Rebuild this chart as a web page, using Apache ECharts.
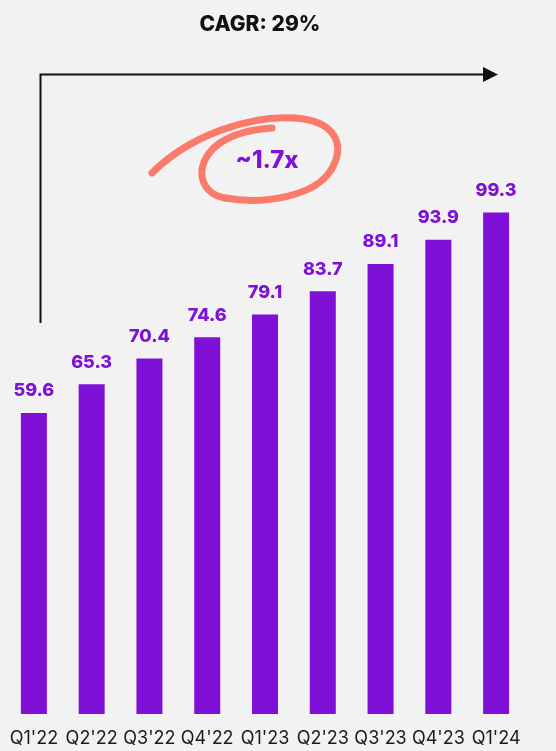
<!DOCTYPE html>
<html>
<head>
<meta charset="utf-8">
<script src="https://cdn.jsdelivr.net/npm/echarts@6/dist/echarts.min.js"></script>
<style>
  html, body {margin: 0; padding: 0; background: #f2f2f2;}
  #chart {width: 556px; height: 751px;}
</style>
</head>
<body>
<div id="chart"></div>
<script>
const quarters = ["Q1'22", "Q2'22", "Q3'22", "Q4'22", "Q1'23", "Q2'23", "Q3'23", "Q4'23", "Q1'24"];
const values = [59.6, 65.3, 70.4, 74.6, 79.1, 83.7, 89.1, 93.9, 99.3];
const title_text = "CAGR: 29%";
const multiple_text = "~1.7x";

const purple = "#7f10d8";
const coral = "#fb7b6b";
const font = "Inter, 'Noto Sans', sans-serif";

// hand-drawn loop around the multiple, as cubic segments [x1,y1,cp1x,cp1y,cp2x,cp2y,x2,y2]
const loop = [
  [152, 173, 190, 135, 250, 115, 295, 118],
  [295, 118, 336, 121, 346, 145, 331, 170],
  [331, 170, 315, 196, 265, 205, 225, 198],
  [225, 198, 195, 192, 195, 160, 220, 143],
  [220, 143, 235, 133, 255, 129, 272, 128]
];

function loopGraphics(){
  return loop.map((s) => ({
    type: "bezierCurve",
    shape: {x1: s[0], y1: s[1], cpx1: s[2], cpy1: s[3], cpx2: s[4], cpy2: s[5], x2: s[6], y2: s[7]},
    style: {stroke: coral, lineWidth: 7, fill: null, lineCap: "round"}
  }));
}

const chart = echarts.init(document.getElementById("chart"), null, {renderer: "canvas"});

chart.setOption({
  backgroundColor: "#f2f2f2",
  animation: false,
  title: {
    text: title_text, left: 255, top: 9, textAlign: "center",
    textStyle: {fontFamily: font, fontWeight: 800, fontSize: 21, color: "#111"}
  },
  grid: {left: 5, right: 31, top: 108, bottom: 37},
  xAxis: {
    type: "category", data: quarters,
    axisLine: {show: false}, axisTick: {show: false},
    axisLabel: {fontFamily: font, fontSize: 18, color: "#1a1a1a", margin: 16, interval: 0}
  },
  yAxis: {type: "value", min: 0, max: 120, show: false, splitLine: {show: false}},
  series: [{
    type: "bar",
    data: values,
    barWidth: 26,
    itemStyle: {color: purple},
    label: {
      show: true, position: "top", distance: 13,
      fontFamily: font, fontWeight: 800, fontSize: 18, color: purple,
      formatter: (p) => p.value.toFixed(1)
    }
  }],
  // ANNOTATIONS: growth arrow + hand-drawn circle
  graphic: [
    {type: "polyline", shape: {points: [[40.5, 323], [40.5, 74.5], [484, 74.5]]},
     style: {stroke: "#111", lineWidth: 2, fill: null}},
    {type: "polygon", shape: {points: [[483, 67], [498, 74.5], [483, 82]]},
     style: {fill: "#111"}},
    ...loopGraphics(),
    {type: "text", x: 267, y: 161,
     style: {text: multiple_text, fontFamily: font, fontWeight: 800, fontSize: 24,
             fill: purple, align: "center", verticalAlign: "middle"}}
  ]
});
</script>
</body>
</html>
